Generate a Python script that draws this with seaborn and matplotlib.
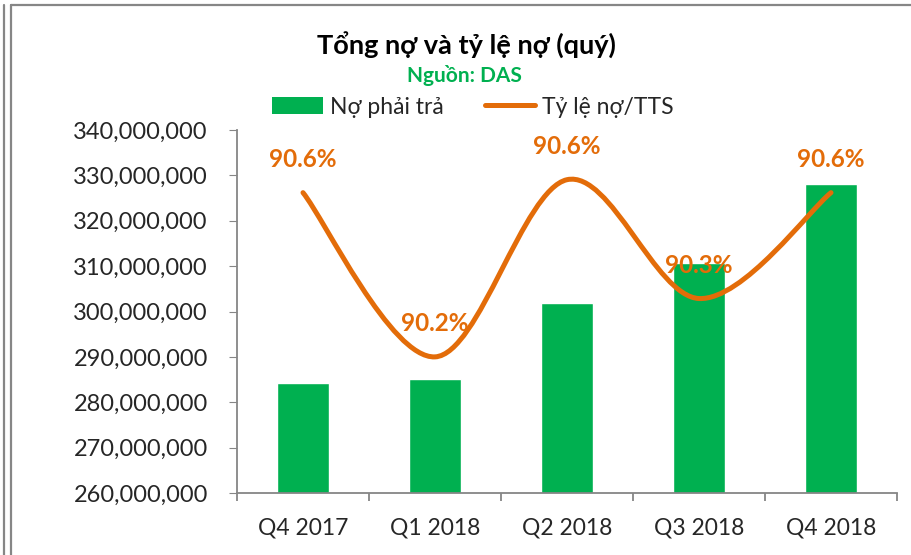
import numpy as np
import pandas as pd
import seaborn as sns
import matplotlib.pyplot as plt
from matplotlib.path import Path
from matplotlib.patches import PathPatch, Patch
from matplotlib.lines import Line2D
from matplotlib.ticker import FuncFormatter, FixedLocator

# data
quarters = ["Q4 2017", "Q1 2018", "Q2 2018", "Q3 2018", "Q4 2018"]
total_debt = [284200000, 285200000, 301800000, 310600000, 328200000]
debt_ratio = [90.59, 90.21, 90.62, 90.345, 90.59]

GREEN = "#00B050"
ORANGE = "#E36C09"
GREY = "#868686"

sns.set_style("white")
plt.rcParams["font.family"] = ["Lato", "DejaVu Sans"]

df = pd.DataFrame({"quarter": quarters, "debt": total_debt, "ratio": debt_ratio})

fig = plt.figure(figsize=(9.11, 5.55), dpi=100)
ax = fig.add_axes([237 / 911, 62 / 555, 660 / 911, 363 / 555])

# bars: total liabilities
sns.barplot(data=df, x="quarter", y="debt", color=GREEN, width=0.4,
            saturation=1, ax=ax)
ax.set_xlim(-0.5, 4.5)
ax.set_ylim(260000000, 340000000)
ax.yaxis.set_major_locator(FixedLocator(np.arange(260000000, 340000001, 10000000)))
ax.yaxis.set_major_formatter(FuncFormatter(lambda v, p: f"{v:,.0f}"))
ax.set_xlabel("")
ax.set_ylabel("")
for s in ["top", "right"]:
    ax.spines[s].set_visible(False)
for s in ["left", "bottom"]:
    ax.spines[s].set_color(GREY)
    ax.spines[s].set_linewidth(1.3)
ax.tick_params(axis="y", which="major", left=True, length=6, color=GREY,
               labelsize=17, pad=15)
ax.tick_params(axis="x", which="major", bottom=False, labelsize=16.5, pad=14)
ax.set_xticks(np.arange(-0.5, 5, 1), minor=True)
ax.tick_params(axis="x", which="minor", bottom=True, length=6, color=GREY, width=1.3)

# smoothed ratio line on a hidden secondary axis
ax2 = ax.twinx()
ax2.set_ylim(89.895, 90.735)
ax2.set_axis_off()
xs = np.arange(len(debt_ratio), dtype=float)
ys = np.array(debt_ratio)
px = np.concatenate([[xs[0]], xs, [xs[-1]]])
py = np.concatenate([[ys[0]], ys, [ys[-1]]])
verts = [(xs[0], ys[0])]
codes = [Path.MOVETO]
for i in range(1, len(px) - 2):
    c1 = (px[i] + (px[i + 1] - px[i - 1]) / 6, py[i] + (py[i + 1] - py[i - 1]) / 6)
    c2 = (px[i + 1] - (px[i + 2] - px[i]) / 6, py[i + 1] - (py[i + 2] - py[i]) / 6)
    verts += [c1, c2, (px[i + 1], py[i + 1])]
    codes += [Path.CURVE4] * 3
ax2.add_patch(PathPatch(Path(verts, codes), facecolor="none", edgecolor=ORANGE,
                        lw=3.6, capstyle="round"))
for x, v in zip(xs, debt_ratio):
    ax2.annotate(f"{np.floor(v * 10 + 0.5) / 10:.1f}%", (x, v), xytext=(0, 24),
                 textcoords="offset points", ha="center", va="center",
                 fontsize=17.5, fontweight="bold", color=ORANGE)

# titles and legend
fig.text(0.512, 1 - 45 / 555, "Tổng nợ và tỷ lệ nợ (quý)", ha="center", va="center",
         fontsize=19.5, fontweight="bold", color="black")
fig.text(0.510, 1 - 75 / 555, "Nguồn: DAS", ha="center", va="center",
         fontsize=15, fontweight="bold", color=GREEN)
handles = [Patch(facecolor=GREEN, edgecolor="none"),
           Line2D([0], [0], color=ORANGE, lw=3.6)]
fig.legend(handles, ["Nợ phải trả", "Tỷ lệ nợ/TTS"], loc="center",
           bbox_to_anchor=(473 / 911, 1 - 107 / 555), ncol=2, frameon=False,
           fontsize=16.5, handlelength=2.2, handletextpad=0.3, columnspacing=1.8)

# chart frame
fig.add_artist(Line2D([4 / 911, 4 / 911], [0, 1 - 5 / 555], color=GREY, lw=1.6))
fig.add_artist(Line2D([11 / 911, 11 / 911], [0, 1 - 5 / 555], color=GREY, lw=1.6))
fig.add_artist(Line2D([11 / 911, 1], [1 - 5 / 555, 1 - 5 / 555], color=GREY, lw=1.6))

fig.savefig("out.png", dpi=100)
